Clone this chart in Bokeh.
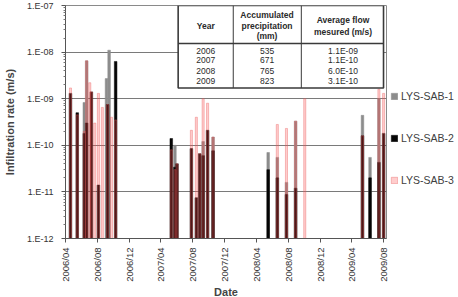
from datetime import datetime, timedelta
import math
import pandas as pd
from bokeh.plotting import figure
from bokeh.models import (Range1d, FixedTicker, Legend, LegendItem, ColumnDataSource)
from bokeh.core.properties import value
from bokeh.embed import file_html
from bokeh.resources import INLINE

# ---------------- data ----------------
sab1_dates = ["2006-06-12", "2006-06-21", "2006-09-05", "2006-09-15",
              "2007-05-25", "2007-09-10", "2007-10-18",
              "2008-05-16", "2008-06-20", "2008-07-25", "2008-08-29",
              "2009-05-12", "2009-06-10", "2009-07-14"]
sab1_vals = [8.3e-10, 6.5e-9, 2.7e-9, 1.1e-8,
             1.0e-10, 1.2e-10, 1.5e-10,
             7.0e-11, 5.5e-11, 1.6e-11, 3.3e-10,
             4.4e-10, 5.5e-11, 1.0e-9]

sab2_dates = ["2006-04-20", "2006-05-16", "2006-06-12", "2006-06-21", "2006-07-09", "2006-08-05",
              "2006-09-09", "2006-10-10",
              "2007-05-11", "2007-05-25", "2007-06-02", "2007-07-27", "2007-08-15",
              "2007-08-28", "2007-09-10", "2007-09-27", "2007-10-18",
              "2008-05-16", "2008-06-20", "2008-07-25", "2008-08-29",
              "2009-05-12", "2009-06-10", "2009-07-14", "2009-08-01"]
sab2_vals = [1.3e-9, 5.0e-10, 1.8e-10, 3.0e-10, 1.4e-9, 1.4e-11,
             7.5e-10, 6.3e-9,
             1.4e-10, 3.4e-11, 4.0e-11, 8.5e-11, 7.5e-12,
             6.6e-11, 6.0e-11, 2.1e-10, 7.6e-11,
             3.0e-11, 2.0e-11, 8.8e-12, 1.2e-11,
             1.6e-10, 2.0e-11, 4.3e-11, 1.8e-10]

sab3_dates = ["2006-04-20", "2006-05-16", "2006-06-12", "2006-06-21", "2006-07-03", "2006-07-09",
              "2006-07-22", "2006-08-05", "2006-08-20", "2006-09-09", "2006-09-24", "2006-10-10",
              "2007-05-11", "2007-05-25", "2007-06-02", "2007-07-27", "2007-08-15",
              "2007-08-28", "2007-09-10", "2007-09-27", "2007-10-18",
              "2008-06-20", "2008-07-25", "2008-08-29", "2008-10-03",
              "2009-05-12", "2009-07-14", "2009-08-01"]
sab3_vals = [1.7e-9, 4.5e-10, 2.0e-10, 6.5e-9, 2.2e-9, 1.4e-9,
             3.0e-10, 1.3e-9, 6.5e-10, 7.5e-10, 4.0e-10, 3.5e-10,
             8.0e-11, 3.0e-11, 4.0e-11, 2.1e-10, 4.0e-10,
             6.6e-11, 1.0e-9, 8.0e-10, 1.5e-10,
             2.8e-10, 2.3e-10, 3.3e-10, 1.0e-9,
             1.6e-10, 1.6e-9, 1.3e-9]

series_names = ["LYS-SAB-1", "LYS-SAB-2", "LYS-SAB-3"]

y_ticks = [1e-12, 1e-11, 1e-10, 1e-9, 1e-8, 1e-7]
y_tick_labels = ["1.E-12", "1.E-11", "1.E-10", "1.E-09", "1.E-08", "1.E-07"]

x_tick_labels = ["2006/04", "2006/08", "2006/12", "2007/04", "2007/08", "2007/12",
                 "2008/04", "2008/08", "2008/12", "2009/04", "2009/08"]

table_years = ["2006", "2007", "2008", "2009"]
table_precip = ["535", "671", "765", "823"]
table_flow = ["1.1E-09", "1.1E-10", "6.0E-10", "3.1E-10"]

# ---------------- helpers ----------------
FONT = "Liberation Sans"
T0 = datetime(2006, 4, 1)


def mdate(m):
    return T0 + timedelta(days=m * 30.44)


def ydec(d):
    return 10 ** (-7 - d)


def ms(d):
    return (pd.Timestamp(d) - pd.Timestamp("1970-01-01")) / pd.Timedelta(milliseconds=1)


BAR_W = 10 * 86400000
PINK_W = 8 * 86400000
BOTTOM = 1e-12

p = figure(frame_width=321, frame_height=233, x_axis_type="datetime", y_axis_type="log",
           x_range=Range1d(datetime(2006, 4, 1), datetime(2009, 8, 12)),
           y_range=Range1d(1e-12, 1e-7),
           output_backend="svg", toolbar_location=None,
           min_border_left=62, min_border_right=75, min_border_top=5, min_border_bottom=59)

p.background_fill_color = "white"
p.border_fill_color = "white"
p.outline_line_color = "#8a8a8a"
p.xgrid.grid_line_color = None
p.ygrid.grid_line_color = "#7a7a7a"
p.ygrid.grid_line_width = 1

s1 = ColumnDataSource(dict(x=pd.to_datetime(sab1_dates), top=sab1_vals))
s2 = ColumnDataSource(dict(x=pd.to_datetime(sab2_dates), top=sab2_vals))
s3 = ColumnDataSource(dict(x=pd.to_datetime(sab3_dates), top=sab3_vals))

r1 = p.vbar(x="x", top="top", bottom=BOTTOM, width=BAR_W, source=s1,
            fill_color="#8c8c8c", line_color="#8c8c8c", line_width=0.5)
r2 = p.vbar(x="x", top="top", bottom=BOTTOM, width=BAR_W, source=s2,
            fill_color="#050505", line_color="#050505", line_width=0.5)
r3 = p.vbar(x="x", top="top", bottom=BOTTOM, width=PINK_W, source=s3,
            fill_color="#ff4a4a", fill_alpha=0.28, line_color="#e85a5a",
            line_width=0.5, line_alpha=0.75)

# ---------------- inset table ----------------
tl, tc1, tc2, tr = mdate(14.17), mdate(21.1), mdate(29.66), mdate(40.0)
tt, th, tb = ydec(0.0), ydec(0.815), ydec(1.77)
p.quad(left=[tl], right=[tr], top=[tt], bottom=[tb], fill_color="white",
       line_color="#3a3a3a", line_width=1.6)
p.segment(x0=[tl], x1=[tr], y0=[th], y1=[th], line_color="#3a3a3a", line_width=1.6)
p.segment(x0=[tc1, tc2], x1=[tc1, tc2], y0=[tt, tt], y1=[tb, tb],
          line_color="#3a3a3a", line_width=1.0)

cx_year, cx_prec, cx_flow = mdate(17.65), mdate(25.35), mdate(34.9)
hdr_x = [cx_year, cx_prec, cx_prec, cx_prec, cx_flow, cx_flow]
hdr_y = [ydec(0.43), ydec(0.195), ydec(0.43), ydec(0.665), ydec(0.31), ydec(0.56)]
hdr_t = ["Year", "Accumulated", "precipitation", "(mm)", "Average flow", "mesured (m/s)"]
p.text(x=hdr_x, y=hdr_y, text=hdr_t, text_font=value(FONT), text_font_size="8.5px",
       text_font_style="bold", text_align="center", text_baseline="middle", text_color="#2a2a2a")

row_y = [ydec(0.966), ydec(1.18), ydec(1.41), ydec(1.63)]
p.text(x=[cx_year] * 4 + [cx_prec] * 4 + [cx_flow] * 4, y=row_y * 3,
       text=table_years + table_precip + table_flow, text_font=value(FONT),
       text_font_size="8.5px", text_align="center", text_baseline="middle", text_color="#2a2a2a")

# ---------------- axes ----------------
x_ticks = [ms(datetime(2006 + (3 + 4 * i) // 12, (3 + 4 * i) % 12 + 1, 1)) for i in range(len(x_tick_labels))]
p.xaxis.ticker = FixedTicker(ticks=x_ticks)
p.xaxis.major_label_overrides = dict(zip(x_ticks, x_tick_labels))
p.xaxis.major_label_orientation = math.pi / 2
p.xaxis.major_label_text_font = FONT
p.xaxis.major_label_text_font_size = "9.5px"
p.xaxis.major_label_text_color = "#333333"
p.xaxis.major_label_standoff = 5
p.xaxis.major_tick_out = 4
p.xaxis.major_tick_in = 0
p.xaxis.minor_tick_out = 0
p.xaxis.axis_line_color = "#555555"
p.xaxis.major_tick_line_color = "#555555"
p.xaxis.axis_label = "Date"
p.xaxis.axis_label_text_font = FONT
p.xaxis.axis_label_text_font_size = "11px"
p.xaxis.axis_label_text_font_style = "bold"
p.xaxis.axis_label_standoff = 1

minor = [m * 10.0 ** e for e in range(-12, -7) for m in range(2, 10)]
p.yaxis.ticker = FixedTicker(ticks=y_ticks, minor_ticks=minor)
p.yaxis.major_label_overrides = dict(zip(y_ticks, y_tick_labels))
p.yaxis.major_label_text_font = FONT
p.yaxis.major_label_text_font_size = "9px"
p.yaxis.major_label_text_color = "#333333"
p.yaxis.major_label_standoff = 8
p.yaxis.major_tick_out = 4
p.yaxis.major_tick_in = 0
p.yaxis.minor_tick_out = 2
p.yaxis.minor_tick_in = 0
p.yaxis.axis_line_color = "#555555"
p.yaxis.major_tick_line_color = "#555555"
p.yaxis.minor_tick_line_color = "#777777"
p.yaxis.axis_label = "Infiltration rate (m/s)"
p.yaxis.axis_label_text_font = FONT
p.yaxis.axis_label_text_font_size = "11px"
p.yaxis.axis_label_text_font_style = "bold"
p.yaxis.axis_label_standoff = 8

# ---------------- legend (right side panel) ----------------
legend = Legend(items=[LegendItem(label=series_names[0], renderers=[r1]),
                       LegendItem(label=series_names[1], renderers=[r2]),
                       LegendItem(label=series_names[2], renderers=[r3])],
                location="top_left")
legend.title = " "
legend.title_text_font_size = "10px"
legend.title_standoff = 69
legend.glyph_width = 8
legend.glyph_height = 8
legend.label_height = 14
legend.spacing = 28
legend.padding = 0
legend.margin = 4
legend.label_standoff = 3
legend.border_line_alpha = 0
legend.background_fill_alpha = 0
legend.label_text_font = FONT
legend.label_text_font_size = "10.5px"
legend.label_text_color = "#404040"
p.add_layout(legend, "right")

open("out.html", "w").write(file_html(p, INLINE))
